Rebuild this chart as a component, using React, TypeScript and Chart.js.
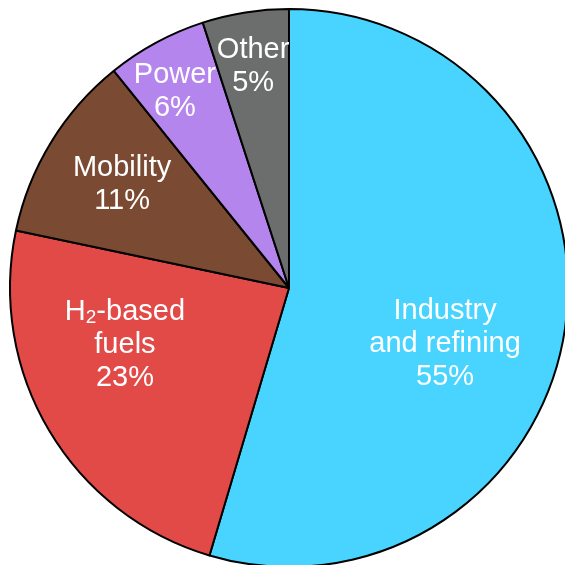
import React, { useEffect, useRef } from "react";
import { Chart, registerables } from "chart.js";

Chart.register(...registerables);

const categories: string[][] = [
  ["Industry", "and refining"],
  ["H₂-based", "fuels"],
  ["Mobility"],
  ["Power"],
  ["Other"],
];
const shares: number[] = [54.6, 23.7, 10.9, 5.8, 5.0];
const shareLabels: string[] = ["55%", "23%", "11%", "6%", "5%"];
const colors: string[] = ["#48D4FF", "#E24A48", "#7A4A33", "#B485EC", "#6C6E6D"];
// label placement: radial fraction and angular shift (deg)
const labelRadius: number[] = [0.592, 0.62, 0.707, 0.822, 0.813];
const labelShift: number[] = [10.8, 12.3, 0.7, -1.4, -0.1];

const FONT_SIZE = 29;
const LINE_H = 33;
const TEXT_DROP = 2;
const FONT_FAMILY = "'Liberation Sans', Arial, sans-serif";

function drawLine(ctx: CanvasRenderingContext2D, text: string, cx: number, cy: number) {
  const segs: { t: string; sub: boolean }[] = [];
  let buf = "";
  for (const ch of text) {
    if (ch === "₂") {
      if (buf) segs.push({ t: buf, sub: false });
      buf = "";
      segs.push({ t: "2", sub: true });
    } else buf += ch;
  }
  if (buf) segs.push({ t: buf, sub: false });
  const normal = `${FONT_SIZE}px ${FONT_FAMILY}`;
  const small = `${Math.round(FONT_SIZE * 0.66)}px ${FONT_FAMILY}`;
  let total = 0;
  const widths = segs.map((s) => {
    ctx.font = s.sub ? small : normal;
    const w = ctx.measureText(s.t).width;
    total += w;
    return w;
  });
  let x = cx - total / 2;
  segs.forEach((s, i) => {
    ctx.font = s.sub ? small : normal;
    ctx.fillText(s.t, x, s.sub ? cy + 6 : cy);
    x += widths[i];
  });
}

const labelPlugin = {
  id: "sliceLabels",
  afterDatasetsDraw(chart: any) {
    const ctx: CanvasRenderingContext2D = chart.ctx;
    const meta = chart.getDatasetMeta(0);
    ctx.save();
    ctx.fillStyle = "#ffffff";
    ctx.textAlign = "left";
    ctx.textBaseline = "middle";
    meta.data.forEach((arc: any, i: number) => {
      const p = arc.getProps(["x", "y", "startAngle", "endAngle", "outerRadius"], true);
      const mid = (p.startAngle + p.endAngle) / 2 + (labelShift[i] * Math.PI) / 180;
      const r = p.outerRadius * labelRadius[i];
      const cx = p.x + Math.cos(mid) * r;
      const cy = p.y + Math.sin(mid) * r + TEXT_DROP;
      const lines = [...categories[i], shareLabels[i]];
      const top = cy - ((lines.length - 1) * LINE_H) / 2;
      lines.forEach((ln, k) => drawLine(ctx, ln, cx, top + k * LINE_H));
    });
    ctx.restore();
  },
};

export default function App() {
  const ref = useRef<HTMLCanvasElement>(null);
  useEffect(() => {
    if (!ref.current) return;
    const chart = new Chart(ref.current, {
      type: "pie",
      data: {
        labels: categories.map((c) => c.join(" ")),
        datasets: [
          {
            data: shares,
            backgroundColor: colors,
            borderColor: "#000000",
            borderWidth: 2,
          },
        ],
      },
      options: {
        responsive: false,
        animation: false,
        radius: 279,
        events: [],
        layout: { padding: 0 },
        plugins: {
          legend: { display: false },
          tooltip: { enabled: false },
        },
      } as any,
      plugins: [labelPlugin],
    });
    return () => chart.destroy();
  }, []);
  return (
    <div
      style={{
        position: "fixed",
        left: 0,
        top: 0,
        width: 565,
        height: 565,
        overflow: "hidden",
        background: "#ffffff",
      }}
    >
      <canvas
        ref={ref}
        width={578}
        height={578}
        style={{ position: "absolute", left: 0, top: -1, width: 578, height: 578 }}
      />
    </div>
  );
}
